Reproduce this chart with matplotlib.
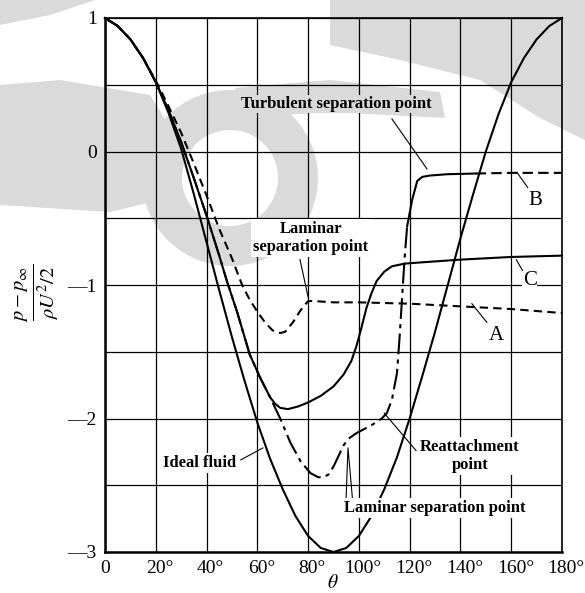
import numpy as np
import matplotlib.pyplot as plt
from matplotlib.patches import Wedge, Polygon
from matplotlib.transforms import ScaledTranslation

plt.rcParams['font.family'] = ['Liberation Serif', 'DejaVu Serif']
plt.rcParams['mathtext.fontset'] = 'stix'

# ideal fluid
ideal_theta = [0, 5, 10, 15, 20, 25, 30, 35, 40, 45, 50, 55, 60, 65, 70, 75, 80, 85, 90,
               95, 100, 105, 110, 115, 120, 125, 130, 135, 140, 145, 150, 155, 160, 165, 170, 175, 180]
ideal_cp = [1.0, 0.94, 0.84, 0.7, 0.52, 0.29, 0.02, -0.32, -0.68, -1.04, -1.39, -1.72, -2.03, -2.3,
            -2.53, -2.73, -2.88, -2.97, -3.0, -2.97, -2.88, -2.73, -2.53, -2.29, -2.0, -1.68,
            -1.35, -1.0, -0.65, -0.32, 0.0, 0.28, 0.52, 0.7, 0.84, 0.94, 1.0]

# curve A (subcritical)
a_theta = [0, 5, 10, 15, 20, 25, 30, 35, 40, 45, 50, 54, 57, 60, 63, 66, 69, 71, 74, 77, 80,
           82, 90, 100, 120, 140, 160, 180]
a_cp = [1.0, 0.94, 0.84, 0.7, 0.53, 0.34, 0.14, -0.09, -0.33, -0.58, -0.8, -1.0, -1.11, -1.2,
        -1.28, -1.34, -1.36, -1.35, -1.28, -1.19, -1.12, -1.12, -1.13, -1.13, -1.14, -1.16,
        -1.18, -1.21]

# curve B (supercritical)
b_theta = [0, 5, 10, 15, 20, 25, 30, 35, 40, 45, 48, 52, 57, 61, 65, 69, 73, 77, 81, 84, 86,
           88, 90, 92, 94, 96, 99, 102, 105, 109, 111, 113, 115, 116, 117, 118, 119, 121, 123,
           125, 128, 135, 146, 160, 180]
b_cp = [1.0, 0.94, 0.84, 0.7, 0.52, 0.31, 0.07, -0.2, -0.48, -0.78, -0.97, -1.2, -1.52, -1.69,
        -1.84, -2.0, -2.18, -2.32, -2.41, -2.44, -2.44, -2.42, -2.36, -2.28, -2.2, -2.15, -2.11,
        -2.08, -2.05, -2.0, -1.96, -1.86, -1.66, -1.4, -1.1, -0.8, -0.56, -0.36, -0.22, -0.19,
        -0.18, -0.17, -0.165, -0.16, -0.16]

# curve C
c_theta = [0, 5, 10, 15, 20, 25, 30, 35, 40, 45, 48, 52, 57, 61, 65, 67, 69, 72, 76, 80, 85,
           90, 94, 97, 99, 101, 103, 105, 107, 110, 113, 118, 125, 140, 160, 180]
c_cp = [1.0, 0.94, 0.84, 0.7, 0.52, 0.31, 0.07, -0.2, -0.48, -0.78, -0.97, -1.2, -1.52, -1.69,
        -1.84, -1.89, -1.92, -1.93, -1.91, -1.88, -1.83, -1.76, -1.67, -1.57, -1.46, -1.32,
        -1.17, -1.06, -0.97, -0.9, -0.86, -0.84, -0.83, -0.81, -0.79, -0.78]

x_ticks = [0, 20, 40, 60, 80, 100, 120, 140, 160, 180]
x_labels = ['0', '20°', '40°', '60°', '80°', '100°', '120°', '140°', '160°', '180°']
y_ticks = [-3, -2.5, -2, -1.5, -1, -0.5, 0, 0.5, 1]
y_labels = ['—3', '', '—2', '', '—1', '', '0', '', '1']

fig = plt.figure(figsize=(5.85, 5.93), dpi=100)

# faint watermark behind the chart (pixel coords, y down)
bg = fig.add_axes([0, 0, 1, 1], zorder=0)
bg.set_xlim(0, 585)
bg.set_ylim(593, 0)
bg.axis('off')
wm = '#dadada'
bg.add_patch(Wedge((230, 178), 88, 0, 360, width=40, color=wm, lw=0))
bg.add_patch(Polygon([(0, 85), (60, 80), (150, 95), (172, 130), (160, 200), (110, 212), (0, 205)],
                     color=wm, lw=0))
bg.add_patch(Polygon([(0, 0), (95, 0), (50, 15), (0, 25)], color=wm, lw=0))
bg.add_patch(Polygon([(235, 88), (330, 80), (440, 92), (445, 118), (330, 112), (235, 118)],
                     color=wm, lw=0))
bg.add_patch(Polygon([(330, 0), (585, 0), (585, 140), (540, 118), (480, 80), (400, 60),
                      (330, 45)], color=wm, lw=0))
bg.add_patch(Wedge((520, 150), 110, 105, 160, width=18, color='white', lw=0))

ax = fig.add_axes([105 / 585, 1 - 552 / 593, 457 / 585, 534 / 593], zorder=1)
ax.set_facecolor('none')
ax.set_xlim(0, 180)
ax.set_ylim(-3, 1)
ax.set_xticks(x_ticks)
ax.set_xticklabels(x_labels, fontsize=14)
ax.set_yticks(y_ticks)
ax.set_yticklabels(y_labels, fontsize=14)
ax.tick_params(length=0, pad=6)
ax.grid(True, color='k', lw=0.9)
for s in ax.spines.values():
    s.set_linewidth(1.2)
ax.spines['left'].set_linewidth(1.8)
ax.spines['bottom'].set_linewidth(1.8)

# shift degree labels so the digits sit on the grid line
off = ScaledTranslation(3 / 72, 0, fig.dpi_scale_trans)
for lab in ax.get_xticklabels()[1:]:
    lab.set_transform(lab.get_transform() + off)

lw = 1.5
ax.plot(ideal_theta, ideal_cp, color='k', lw=lw, clip_on=False)
ax.plot(c_theta, c_cp, color='k', lw=lw, clip_on=False)
ax.plot(a_theta, a_cp, color='k', lw=lw, dashes=(4, 2.5), clip_on=False)

bt = np.array(b_theta)
bc = np.array(b_cp)
m1 = bt <= 119
m2 = (bt >= 119) & (bt <= 146)
m3 = bt >= 146
ax.plot(bt[m1], bc[m1], color='k', lw=lw, dashes=(10, 2.5, 2, 2.5), clip_on=False)
ax.plot(bt[m2], bc[m2], color='k', lw=lw)
ax.plot(bt[m3], bc[m3], color='k', lw=lw, dashes=(5, 2.5))

white = dict(facecolor='white', edgecolor='none', pad=1.5)
tf = dict(fontsize=12, fontweight='bold', ha='center', va='center', zorder=5)

ax.text(91, 0.356, 'Turbulent separation point', bbox=dict(facecolor=wm, edgecolor='none', pad=1), **tf)
ax.plot([113, 126.8], [0.244, -0.13], color='k', lw=0.8)

ax.text(81.1, -0.65, 'Laminar\nseparation point', linespacing=1.15, bbox=white, **tf)
ax.plot([76.8, 80], [-0.81, -1.09], color='k', lw=0.8)

ax.text(37.2, -2.33, 'Ideal fluid', bbox=white, **tf)
ax.plot([53.5, 62.2], [-2.31, -2.22], color='k', lw=0.8)

ax.text(143.7, -2.28, 'Reattachment\npoint', linespacing=1.15, bbox=white, **tf)
ax.plot([110, 122.5], [-1.96, -2.24], color='k', lw=0.8)

ax.text(129.8, -2.67, 'Laminar separation point', bbox=white, **tf)
ax.plot([94.9, 95.7, 97.6], [-2.63, -2.22, -2.63], color='k', lw=0.8)

lf = dict(fontsize=15, ha='center', va='center', zorder=5,
          bbox=dict(facecolor='white', edgecolor='none', pad=0.5))
ax.text(154, -1.38, 'A', **lf)
ax.plot([144.5, 150.4], [-1.14, -1.28], color='k', lw=0.8)
ax.text(169.3, -0.37, 'B', **lf)
ax.plot([162.2, 166.5], [-0.155, -0.27], color='k', lw=0.8)
ax.text(167.3, -0.97, 'C', **lf)
ax.plot([162, 165], [-0.81, -0.91], color='k', lw=0.8)

fig.text(37 / 585, 1 - 293 / 593, r'$\frac{p-p_\infty}{\rho U^2/2}$', rotation=90,
         ha='center', va='center', fontsize=21)
fig.text(333 / 585, 1 - 583 / 593, r'$\theta$', ha='center', va='center', fontsize=14)

fig.savefig('out.png', dpi=100)
